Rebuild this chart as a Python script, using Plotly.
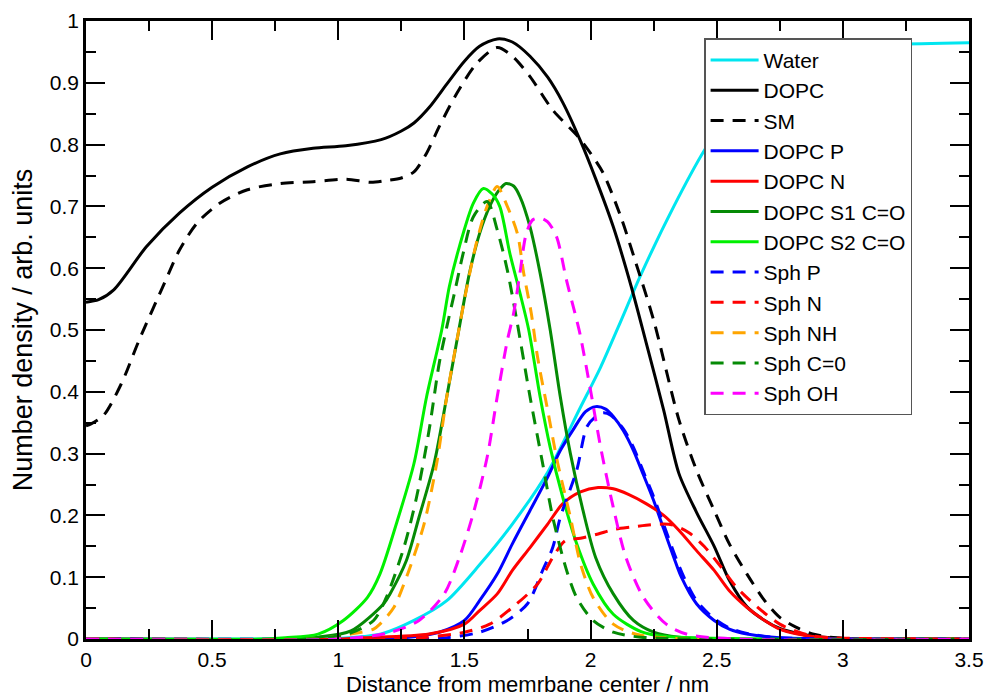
import plotly.graph_objects as go

# ---------------- data ----------------
x_water = [0, 0.9, 1.0, 1.1, 1.17, 1.3, 1.43, 1.56, 1.69, 1.83, 1.96, 2.04, 2.11, 2.2, 2.33, 2.45, 2.55, 2.7, 2.85, 3.0, 3.2, 3.5]
y_water = [0, 0, 0.001, 0.004, 0.008, 0.03, 0.062, 0.12, 0.186, 0.27, 0.375, 0.44, 0.505, 0.59, 0.70, 0.79, 0.85, 0.91, 0.94, 0.955, 0.962, 0.965]

x_dopc = [0, 0.05, 0.11, 0.24, 0.37, 0.5, 0.64, 0.77, 0.9, 1.03, 1.17, 1.25, 1.3, 1.36, 1.43, 1.5, 1.56, 1.63, 1.69, 1.76, 1.83, 1.89, 1.96, 2.02, 2.09, 2.16, 2.22, 2.29, 2.35, 2.42, 2.49, 2.55, 2.62, 2.69, 2.75, 2.82, 2.88, 2.95, 3.05, 3.5]
y_dopc = [0.545, 0.549, 0.565, 0.635, 0.689, 0.731, 0.764, 0.785, 0.794, 0.798, 0.808, 0.822, 0.835, 0.86, 0.898, 0.935, 0.959, 0.971, 0.966, 0.943, 0.909, 0.868, 0.806, 0.745, 0.667, 0.572, 0.48, 0.37, 0.268, 0.205, 0.15, 0.095, 0.052, 0.03, 0.017, 0.009, 0.005, 0.002, 0, 0]

x_sm = [0, 0.02, 0.07, 0.14, 0.21, 0.31, 0.37, 0.44, 0.53, 0.64, 0.77, 0.9, 1.03, 1.13, 1.19, 1.25, 1.3, 1.35, 1.4, 1.47, 1.55, 1.63, 1.69, 1.76, 1.85, 1.95, 2.0, 2.05, 2.12, 2.18, 2.25, 2.35, 2.42, 2.49, 2.55, 2.62, 2.69, 2.75, 2.82, 2.88, 2.95, 3.05, 3.5]
y_sm = [0.345, 0.348, 0.362, 0.413, 0.483, 0.575, 0.629, 0.673, 0.705, 0.727, 0.737, 0.74, 0.744, 0.739, 0.742, 0.746, 0.756, 0.786, 0.829, 0.883, 0.932, 0.957, 0.943, 0.91, 0.856, 0.813, 0.786, 0.754, 0.683, 0.608, 0.516, 0.355, 0.273, 0.208, 0.154, 0.105, 0.062, 0.035, 0.018, 0.008, 0.003, 0, 0]

x_dopc_p = [0, 1.1, 1.28, 1.40, 1.5, 1.56, 1.63, 1.69, 1.76, 1.83, 1.88, 1.93, 1.98, 2.02, 2.06, 2.09, 2.13, 2.17, 2.21, 2.25, 2.29, 2.33, 2.36, 2.42, 2.49, 2.55, 2.62, 2.75, 3.5]
y_dopc_p = [0, 0, 0.003, 0.011, 0.03, 0.062, 0.105, 0.154, 0.208, 0.262, 0.305, 0.338, 0.368, 0.376, 0.372, 0.36, 0.337, 0.305, 0.265, 0.224, 0.178, 0.132, 0.1, 0.057, 0.03, 0.016, 0.008, 0.002, 0]

x_dopc_n = [0, 1.0, 1.1, 1.36, 1.5, 1.56, 1.63, 1.69, 1.76, 1.83, 1.89, 1.96, 2.03, 2.09, 2.15, 2.22, 2.29, 2.35, 2.42, 2.49, 2.55, 2.62, 2.69, 2.75, 2.82, 2.88, 2.95, 3.5]
y_dopc_n = [0, 0, 0.002, 0.008, 0.024, 0.046, 0.073, 0.111, 0.148, 0.186, 0.219, 0.238, 0.245, 0.243, 0.234, 0.219, 0.2, 0.176, 0.143, 0.111, 0.078, 0.051, 0.03, 0.016, 0.008, 0.004, 0.001, 0]

x_s1 = [0, 0.8, 0.92, 1.05, 1.18, 1.205, 1.27, 1.32, 1.38, 1.43, 1.48, 1.52, 1.56, 1.6, 1.635, 1.665, 1.695, 1.72, 1.76, 1.80, 1.84, 1.88, 1.92, 1.97, 2.02, 2.09, 2.17, 2.25, 2.35, 3.5]
y_s1 = [0, 0, 0.003, 0.013, 0.057, 0.073, 0.127, 0.197, 0.284, 0.392, 0.505, 0.592, 0.656, 0.70, 0.725, 0.737, 0.733, 0.716, 0.667, 0.592, 0.50, 0.392, 0.30, 0.208, 0.132, 0.073, 0.03, 0.011, 0.003, 0]

x_s2 = [0, 0.7, 0.79, 0.92, 1.02, 1.115, 1.165, 1.23, 1.3, 1.35, 1.41, 1.44, 1.48, 1.535, 1.575, 1.61, 1.64, 1.68, 1.72, 1.755, 1.80, 1.84, 1.89, 1.945, 2.01, 2.09, 2.2, 2.3, 3.5]
y_s2 = [0, 0, 0.002, 0.008, 0.03, 0.067, 0.105, 0.186, 0.284, 0.392, 0.50, 0.57, 0.635, 0.705, 0.729, 0.72, 0.70, 0.624, 0.56, 0.50, 0.392, 0.31, 0.229, 0.154, 0.089, 0.04, 0.012, 0.004, 0]

x_sph_p = [0, 1.3, 1.43, 1.56, 1.67, 1.75, 1.81, 1.85, 1.88, 1.945, 1.985, 2.02, 2.05, 2.08, 2.13, 2.17, 2.21, 2.25, 2.29, 2.33, 2.37, 2.42, 2.49, 2.55, 2.62, 2.75, 3.5]
y_sph_p = [0, 0, 0.002, 0.011, 0.03, 0.057, 0.111, 0.148, 0.197, 0.273, 0.343, 0.36, 0.366, 0.362, 0.34, 0.31, 0.27, 0.23, 0.185, 0.14, 0.10, 0.062, 0.033, 0.018, 0.009, 0.002, 0]

x_sph_n = [0, 1.2, 1.35, 1.5, 1.6, 1.69, 1.79, 1.85, 1.9, 1.96, 2.03, 2.09, 2.16, 2.22, 2.29, 2.33, 2.39, 2.45, 2.52, 2.58, 2.66, 2.75, 2.82, 2.88, 2.95, 3.5]
y_sph_n = [0, 0, 0.003, 0.011, 0.024, 0.051, 0.089, 0.132, 0.159, 0.163, 0.17, 0.177, 0.181, 0.184, 0.186, 0.184, 0.172, 0.15, 0.115, 0.083, 0.052, 0.024, 0.012, 0.005, 0.002, 0]

x_sph_nh = [0, 0.9, 1.05, 1.14, 1.165, 1.22, 1.28, 1.34, 1.39, 1.43, 1.47, 1.51, 1.55, 1.59, 1.63, 1.67, 1.71, 1.735, 1.765, 1.79, 1.83, 1.87, 1.92, 1.96, 2.01, 2.09, 2.2, 3.5]
y_sph_nh = [0, 0, 0.008, 0.016, 0.024, 0.051, 0.111, 0.186, 0.284, 0.392, 0.483, 0.57, 0.645, 0.70, 0.732, 0.70, 0.656, 0.592, 0.527, 0.456, 0.37, 0.284, 0.197, 0.122, 0.067, 0.024, 0.006, 0]

x_sph_co = [0, 0.9, 1.05, 1.14, 1.19, 1.26, 1.31, 1.36, 1.40, 1.43, 1.46, 1.495, 1.535, 1.59, 1.63, 1.67, 1.71, 1.76, 1.81, 1.85, 1.905, 1.945, 2.01, 2.09, 2.2, 3.5]
y_sph_co = [0, 0, 0.01, 0.03, 0.067, 0.148, 0.229, 0.338, 0.446, 0.505, 0.559, 0.624, 0.683, 0.708, 0.662, 0.597, 0.51, 0.392, 0.284, 0.197, 0.111, 0.067, 0.03, 0.011, 0.003, 0]

x_sph_oh = [0, 1.0, 1.2, 1.32, 1.42, 1.48, 1.535, 1.59, 1.63, 1.67, 1.695, 1.72, 1.745, 1.77, 1.80, 1.83, 1.865, 1.905, 1.945, 1.96, 2.0, 2.04, 2.09, 2.14, 2.21, 2.3, 2.4, 3.5]
y_sph_oh = [0, 0, 0.01, 0.03, 0.073, 0.132, 0.203, 0.294, 0.392, 0.483, 0.527, 0.592, 0.656, 0.678, 0.681, 0.675, 0.651, 0.58, 0.516, 0.49, 0.402, 0.31, 0.213, 0.132, 0.067, 0.024, 0.006, 0]

series = [
    ("Water", x_water, y_water, "#00e6f0", "solid"),
    ("DOPC", x_dopc, y_dopc, "#000000", "solid"),
    ("SM", x_sm, y_sm, "#000000", "13px,9px"),
    ("DOPC P", x_dopc_p, y_dopc_p, "#0000ff", "solid"),
    ("DOPC N", x_dopc_n, y_dopc_n, "#ff0000", "solid"),
    ("DOPC S1 C=O", x_s1, y_s1, "#058a05", "solid"),
    ("DOPC S2 C=O", x_s2, y_s2, "#00f000", "solid"),
    ("Sph P", x_sph_p, y_sph_p, "#0000ff", "13px,9px"),
    ("Sph N", x_sph_n, y_sph_n, "#ff0000", "13px,9px"),
    ("Sph NH", x_sph_nh, y_sph_nh, "#ffa500", "13px,9px"),
    ("Sph C=0", x_sph_co, y_sph_co, "#058a05", "13px,9px"),
    ("Sph OH", x_sph_oh, y_sph_oh, "#ff00ff", "13px,9px"),
]

FONT = "Liberation Sans, Arial, Helvetica, sans-serif"

fig = go.Figure()
for name, xs, ys, color, dash in series:
    fig.add_trace(go.Scatter(
        x=xs, y=ys, name=name, mode="lines",
        line=dict(color=color, width=3, dash=dash, shape="spline", smoothing=0.8),
        cliponaxis=True,
    ))

axis_common = dict(
    showline=True, linecolor="black", linewidth=2.5, mirror="allticks",
    ticks="inside", ticklen=19, tickwidth=2, tickcolor="black",
    showgrid=False, zeroline=False,
    tickfont=dict(family=FONT, size=21, color="black"),
)

fig.update_xaxes(
    range=[0, 3.5], dtick=0.5, tick0=0,
    minor=dict(ticks="inside", ticklen=10, tickwidth=2, tickcolor="black", dtick=0.25, showgrid=False),
    title=dict(text="Distance from memrbane center / nm", font=dict(family=FONT, size=22, color="black"), standoff=7),
    **axis_common,
)
fig.update_yaxes(
    range=[0, 1], dtick=0.1, tick0=0,
    minor=dict(ticks="inside", ticklen=10, tickwidth=2, tickcolor="black", dtick=0.05, showgrid=False),
    title=dict(text="Number density / arb. units", font=dict(family=FONT, size=27, color="black"), standoff=10),
    **axis_common,
)

fig.update_layout(
    width=988, height=697,
    margin=dict(l=86, r=19, t=21, b=58, autoexpand=False),
    plot_bgcolor="white", paper_bgcolor="white",
    font=dict(family=FONT, color="black"),
    legend=dict(
        x=0.70, y=0.972, xanchor="left", yanchor="top",
        bgcolor="white", bordercolor="#555555", borderwidth=1.5,
        font=dict(family=FONT, size=21, color="black"),
        itemwidth=48, tracegroupgap=0,
    ),
    showlegend=True,
)

fig.write_html("out.html")
